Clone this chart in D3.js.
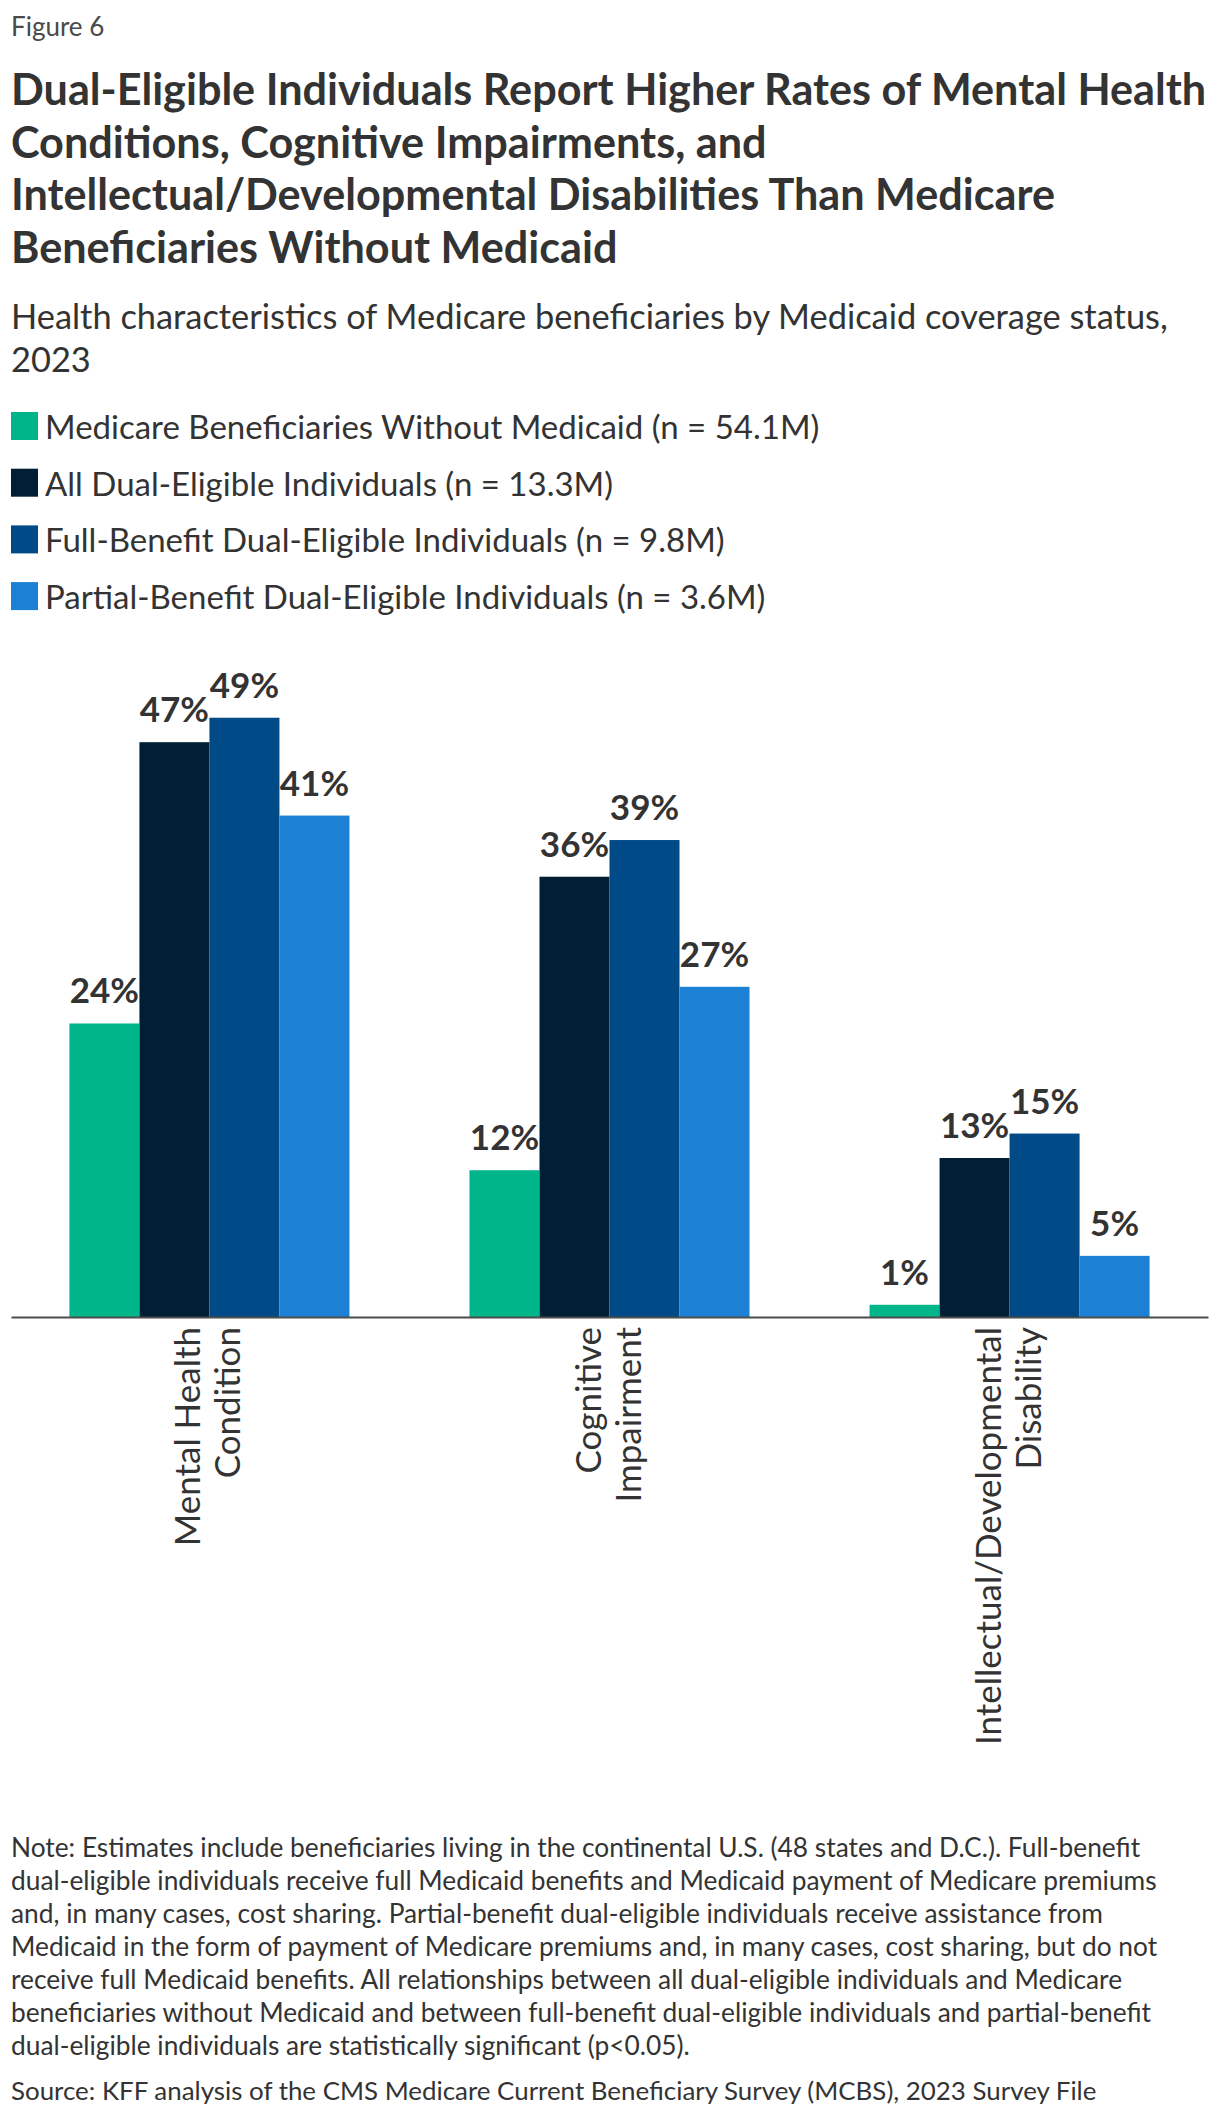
<!DOCTYPE html>
<html>
<head>
<meta charset="utf-8">
<script src="https://cdn.jsdelivr.net/npm/d3@7"></script>
<style>
  body { margin: 0; background: #fff; }
  svg { display: block; font-family: Lato, "Open Sans", sans-serif; }
</style>
</head>
<body>
<div id="chart"></div>
<script>
// ---- data ----
var categories = ["Mental Health Condition", "Cognitive Impairment", "Intellectual/Developmental Disability"];
var categoryLines = [["Mental Health", "Condition"], ["Cognitive", "Impairment"], ["Intellectual/Developmental", "Disability"]];
var seriesNames = [
	"Medicare Beneficiaries Without Medicaid (n = 54.1M)",
	"All Dual-Eligible Individuals (n = 13.3M)",
	"Full-Benefit Dual-Eligible Individuals (n = 9.8M)",
	"Partial-Benefit Dual-Eligible Individuals (n = 3.6M)"
];
var noMedicaid = [24, 12, 1];
var allDual = [47, 36, 13];
var fullBenefit = [49, 39, 15];
var partialBenefit = [41, 27, 5];
var seriesValues = [noMedicaid, allDual, fullBenefit, partialBenefit];
var colors = ["#00b58a", "#001f35", "#004a87", "#1c80d5"];

var figureLabel = "Figure 6";
var titleLines = [
	"Dual-Eligible Individuals Report Higher Rates of Mental Health",
	"Conditions, Cognitive Impairments, and",
	"Intellectual/Developmental Disabilities Than Medicare",
	"Beneficiaries Without Medicaid"
];
var subtitleLines = [
	"Health characteristics of Medicare beneficiaries by Medicaid coverage status,",
	"2023"
];
var noteLines = [
	"Note: Estimates include beneficiaries living in the continental U.S. (48 states and D.C.). Full-benefit",
	"dual-eligible individuals receive full Medicaid benefits and Medicaid payment of Medicare premiums",
	"and, in many cases, cost sharing. Partial-benefit dual-eligible individuals receive assistance from",
	"Medicaid in the form of payment of Medicare premiums and, in many cases, cost sharing, but do not",
	"receive full Medicaid benefits. All relationships between all dual-eligible individuals and Medicare",
	"beneficiaries without Medicaid and between full-benefit dual-eligible individuals and partial-benefit",
	"dual-eligible individuals are statistically significant (p<0.05)."
];
var sourceLine = "Source: KFF analysis of the CMS Medicare Current Beneficiary Survey (MCBS), 2023 Survey File";

// ---- layout ----
var width = 1220, height = 2120;
var left = 11, right = 1208;
var axisY = 1317;

var svg = d3.select("#chart").append("svg")
	.attr("width", width)
	.attr("height", height);

svg.append("rect").attr("width", width).attr("height", height).attr("fill", "#fff");

// header
svg.append("text")
	.attr("x", left).attr("y", 36)
	.attr("fill", "#4a4a4a")
	.style("font-size", "26px")
	.text(figureLabel);

svg.append("g").selectAll("text")
	.data(titleLines)
	.enter().append("text")
	.attr("x", left)
	.attr("y", function(d, i){ return 105 + i * 52.5; })
	.attr("fill", "#333")
	.style("font-size", "43.2px")
	.style("font-weight", "bold")
	.text(function(d){ return d; });

svg.append("g").selectAll("text")
	.data(subtitleLines)
	.enter().append("text")
	.attr("x", left)
	.attr("y", function(d, i){ return 329 + i * 43; })
	.attr("fill", "#333")
	.style("font-size", "34.4px")
	.text(function(d){ return d; });

// legend
var legend = svg.append("g").selectAll("g")
	.data(seriesNames)
	.enter().append("g")
	.attr("transform", function(d, i){ return "translate(" + left + "," + (440 + i * 56.7) + ")"; });
legend.append("rect")
	.attr("x", 0).attr("y", -28)
	.attr("width", 27).attr("height", 28)
	.attr("fill", function(d, i){ return colors[i]; });
legend.append("text")
	.attr("x", 34).attr("y", -1)
	.attr("fill", "#333")
	.style("font-size", "33px")
	.text(function(d){ return d; });

// scales
var x0 = d3.scaleBand().domain(categories).range([left, right]).paddingInner(0.3).paddingOuter(0.146);
var x1 = d3.scaleBand().domain(seriesNames).range([0, x0.bandwidth()]);
var y = d3.scaleLinear().domain([0, 50]).range([axisY, axisY - 611.5]);

var bars = [];
categories.forEach(function(c, ci){
	seriesNames.forEach(function(s, si){
		bars.push({category: c, series: s, si: si, value: seriesValues[si][ci]});
	});
});

var plot = svg.append("g").classed("plotarea", true);

plot.selectAll("rect.bar")
	.data(bars)
	.enter().append("rect")
	.classed("bar", true)
	.attr("x", function(d){ return x0(d.category) + x1(d.series); })
	.attr("width", x1.bandwidth())
	.attr("y", function(d){ return y(d.value); })
	.attr("height", function(d){ return y(0) - y(d.value); })
	.attr("fill", function(d){ return colors[d.si]; });

plot.selectAll("text.value")
	.data(bars)
	.enter().append("text")
	.classed("value", true)
	.attr("x", function(d){ return x0(d.category) + x1(d.series) + x1.bandwidth() / 2; })
	.attr("y", function(d){ return y(d.value) - 20; })
	.attr("text-anchor", "middle")
	.attr("fill", "#333")
	.style("font-size", "35px")
	.style("font-weight", "bold")
	.text(function(d){ return d.value + "%"; });

// x axis
var xAxis = d3.axisBottom(x0).tickSize(0).tickFormat("");
var axisG = svg.append("g")
	.attr("transform", "translate(0," + axisY + ")")
	.call(xAxis);
axisG.select(".domain").attr("stroke", "#4d4d4d").attr("stroke-width", 2);

var catLabels = svg.append("g").selectAll("text")
	.data(categories)
	.enter().append("text")
	.attr("transform", function(d){
		return "translate(" + (x0(d) + x0.bandwidth() / 2) + "," + (axisY + 10) + ") rotate(-90)";
	})
	.attr("text-anchor", "end")
	.attr("fill", "#333")
	.style("font-size", "35px");
catLabels.selectAll("tspan")
	.data(function(d, i){ return categoryLines[i]; })
	.enter().append("tspan")
	.attr("x", 0)
	.attr("y", function(d, i){ return i === 0 ? -9 : 31; })
	.text(function(d){ return d; });

// notes
svg.append("g").selectAll("text")
	.data(noteLines)
	.enter().append("text")
	.attr("x", left)
	.attr("y", function(d, i){ return 1857 + i * 33; })
	.attr("fill", "#333")
	.style("font-size", "26.3px")
	.text(function(d){ return d; });

svg.append("text")
	.attr("x", left).attr("y", 2100)
	.attr("fill", "#333")
	.style("font-size", "25.9px")
	.text(sourceLine);
</script>
</body>
</html>
